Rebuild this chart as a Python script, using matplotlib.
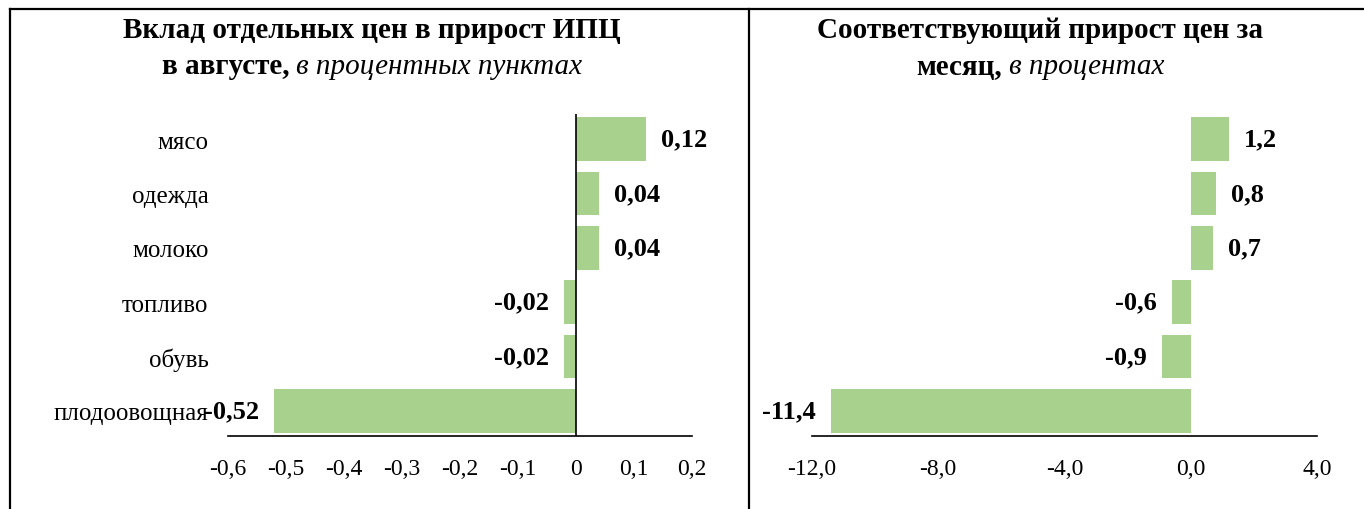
import matplotlib
matplotlib.use('Agg')
import matplotlib.pyplot as plt
from matplotlib.lines import Line2D

plt.rcParams['font.family'] = ['Liberation Serif', 'DejaVu Serif']

categories = ['мясо', 'одежда', 'молоко', 'топливо', 'обувь', 'плодоовощная']
contrib = [0.12, 0.04, 0.04, -0.02, -0.02, -0.52]
growth = [1.2, 0.8, 0.7, -0.6, -0.9, -11.4]
contrib_labels = ['0,12', '0,04', '0,04', '-0,02', '-0,02', '-0,52']
growth_labels = ['1,2', '0,8', '0,7', '-0,6', '-0,9', '-11,4']
left_ticks = [-0.6, -0.5, -0.4, -0.3, -0.2, -0.1, 0, 0.1, 0.2]
left_ticklabels = ['-0,6', '-0,5', '-0,4', '-0,3', '-0,2', '-0,1', '0', '0,1', '0,2']
right_ticks = [-12, -8, -4, 0, 4]
right_ticklabels = ['-12,0', '-8,0', '-4,0', '0,0', '4,0']

W, H = 1364, 510
fig = plt.figure(figsize=(W / 100, H / 100), dpi=100)
green = '#a9d18e'

ax1 = fig.add_axes([228 / W, 1 - 437 / H, (692 - 228) / W, (437 - 115) / H])
ax2 = fig.add_axes([812 / W, 1 - 437 / H, (1317 - 812) / W, (437 - 115) / H])

pos = list(range(len(categories)))[::-1]


def draw(ax, vals, labels, ticks, ticklabels, xlim):
    ax.barh(pos, vals, height=0.8, color=green)
    ax.set_xlim(*xlim)
    ax.set_ylim(-0.46, len(vals) - 0.54)
    ax.set_xticks(ticks)
    ax.set_xticklabels(ticklabels, fontsize=17)
    ax.tick_params(axis='x', length=0, pad=16)
    for s in ['top', 'right', 'left']:
        ax.spines[s].set_visible(False)
    ax.spines['bottom'].set_linewidth(1.2)
    for p, v, lab in zip(pos, vals, labels):
        off = 11 if v >= 0 else -11
        ax.annotate(lab, (v, p), xytext=(off, 0), textcoords='offset points',
                    ha='left' if v >= 0 else 'right', va='center',
                    fontsize=19, fontweight='bold')


draw(ax1, contrib, contrib_labels, left_ticks, left_ticklabels, (-0.6, 0.2))
draw(ax2, growth, growth_labels, right_ticks, right_ticklabels, (-12, 4))

ax1.axvline(0, color='black', lw=1.2)
ax1.set_yticks(pos)
ax1.set_yticklabels(categories, fontsize=18)
ax1.tick_params(axis='y', length=0, pad=14)
ax2.set_yticks([])

# titles
fig.text(372 / W, 1 - 31 / H, 'Вклад отдельных цен в прирост ИПЦ',
         ha='center', va='center', fontsize=21, fontweight='bold')
fig.text(1040 / W, 1 - 31 / H, 'Соответствующий прирост цен за',
         ha='center', va='center', fontsize=21, fontweight='bold')

renderer = fig.canvas.get_renderer()


def mixed_line(xc, y, bold, italic):
    t1 = fig.text(0, y, bold, ha='left', va='center', fontsize=21, fontweight='bold')
    t2 = fig.text(0, y, italic, ha='left', va='center', fontsize=21, style='italic')
    w1 = t1.get_window_extent(renderer).width
    w2 = t2.get_window_extent(renderer).width
    gap = 7
    start = xc - (w1 + gap + w2) / 2
    t1.set_x(start / W)
    t2.set_x((start + w1 + gap) / W)


mixed_line(372, 1 - 67 / H, 'в августе,', 'в процентных пунктах')
mixed_line(1040, 1 - 67 / H, 'месяц,', 'в процентах')

# frame lines
lw = 1.6
fig.add_artist(Line2D([10 / W, 1], [1 - 10 / H, 1 - 10 / H], color='black', lw=lw))
fig.add_artist(Line2D([10 / W, 10 / W], [0, 1 - 10 / H], color='black', lw=lw))
fig.add_artist(Line2D([749 / W, 749 / W], [0, 1 - 10 / H], color='black', lw=lw))

fig.savefig('out.png', dpi=100)
